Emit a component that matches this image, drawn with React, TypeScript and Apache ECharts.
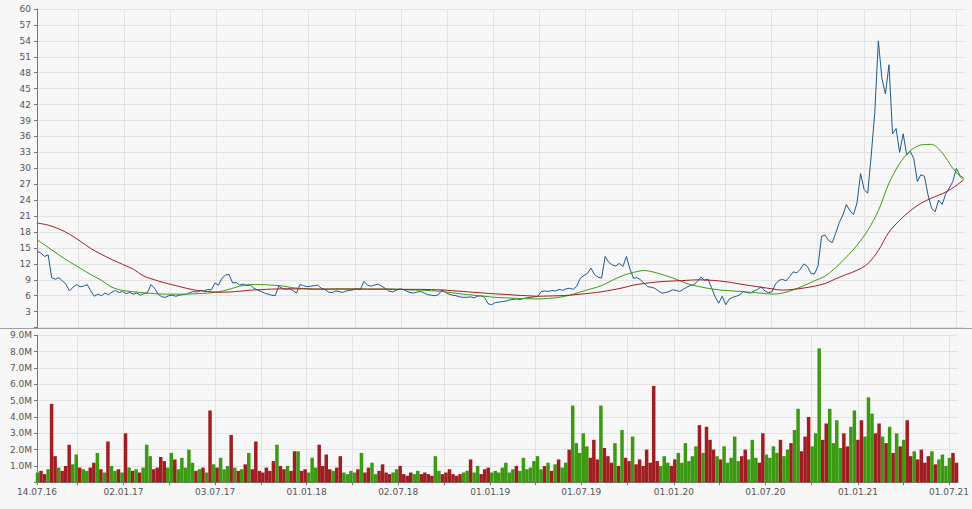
import React, { useEffect, useRef } from "react";
import * as echarts from "echarts";

// ---- data ----
const START = "2016-07-15"; // first weekly sample (Friday)
const AXIS_MIN = "2016-07-14";
const AXIS_MAX = "2021-07-19";

// weekly closing prices
const price = [
  14.3, 14.0, 13.4, 13.7, 9.4, 9.1, 9.4, 8.8, 8.2, 6.9,
  7.6, 8.1, 7.7, 7.8, 8.1, 6.9, 5.9, 6.3, 6.0, 6.5,
  6.2, 6.7, 7.0, 6.6, 6.8, 6.4, 6.6, 6.3, 6.5, 6.1,
  6.4, 6.6, 8.1, 7.4, 6.3, 5.8, 5.7, 6.0, 6.1, 5.9,
  6.1, 6.2, 6.3, 6.6, 6.8, 6.7, 7.0, 6.9, 7.2, 7.1,
  8.4, 8.0, 9.3, 9.9, 10.0, 8.4, 8.5, 8.0, 8.2, 7.9,
  8.0, 7.4, 7.1, 6.8, 6.5, 6.3, 6.1, 6.0, 7.8, 7.4,
  7.2, 7.3, 7.0, 6.5, 8.1, 7.9, 7.7, 7.8, 7.9, 8.0,
  7.4, 7.2, 6.7, 6.6, 6.9, 6.8, 6.6, 6.9, 7.0, 7.1,
  7.3, 7.2, 8.7, 8.0, 7.8, 8.0, 8.2, 7.8, 7.4, 6.9,
  6.7, 7.0, 7.3, 7.2, 6.9, 6.6, 6.5, 6.7, 6.8, 6.5,
  6.2, 6.1, 6.0, 6.2, 7.1, 6.6, 6.3, 6.1, 6.0, 5.8,
  5.7, 5.7, 5.8, 5.6, 5.9, 6.0, 5.7, 4.5, 4.3, 4.7,
  4.8, 4.9, 5.0, 5.2, 5.3, 5.4, 5.3, 5.5, 5.6, 5.7,
  5.8, 5.9, 6.8, 6.9, 6.8, 7.0, 6.9, 7.2, 7.0, 7.3,
  7.4, 7.2, 7.8, 9.3, 9.8, 10.2, 11.2, 10.0, 9.5, 9.3,
  13.4, 12.3, 11.8, 11.6, 12.1, 11.5, 13.4, 11.0, 9.3, 9.4,
  9.0, 8.3, 7.7, 7.6, 7.4, 6.9, 6.5, 6.6, 6.8, 7.1,
  7.0, 6.8, 7.2, 7.6, 7.9, 8.1, 8.7, 9.5, 8.9, 9.1,
  7.5, 5.8, 4.6, 5.9, 4.3, 5.4, 5.7, 5.9, 6.2, 6.8,
  6.6, 6.5, 6.9, 7.2, 7.7, 6.9, 6.6, 6.7, 8.2, 8.9,
  9.1, 8.8, 9.6, 10.5, 10.3, 11.0, 12.0, 11.5, 10.2, 10.1,
  11.6, 17.2, 17.4, 16.4, 16.0, 17.8, 19.8, 21.2, 23.2, 22.0,
  21.3, 23.5, 29.0, 26.0, 25.3, 32.5, 40.5, 54.0, 47.0, 44.0,
  49.5, 36.5, 37.5, 33.0, 36.5, 32.5, 33.2, 31.8, 27.5, 28.8,
  28.5, 25.0, 22.5, 21.8, 24.0, 23.2, 25.2, 26.3, 27.5, 30.0,
  28.6, 28.2,
];

// weekly volume (millions)
const volume = [
  0.6, 0.7, 0.5, 0.8, 4.8, 1.6, 0.9, 0.7, 1.0, 2.3,
  1.1, 1.7, 0.9, 0.8, 0.7, 0.9, 1.2, 1.8, 0.8, 0.6,
  2.5, 1.0, 0.7, 0.8, 0.6, 3.0, 0.9, 0.7, 0.8, 0.6,
  0.9, 2.3, 1.6, 0.8, 0.9, 1.55, 1.3, 0.9, 1.8, 1.4,
  0.8, 1.5, 0.9, 2.0, 1.2, 0.7, 0.8, 0.9, 0.6, 4.4,
  1.1, 0.9, 1.5, 0.8, 1.0, 2.9, 0.9, 0.7, 0.8, 1.1,
  1.8, 0.8, 2.5, 0.7, 0.6, 0.9, 0.7, 1.3, 2.3, 1.0,
  0.8, 1.0, 0.7, 1.9, 1.9, 0.7, 0.8, 0.6, 1.5, 0.9,
  2.3, 1.0, 1.7, 0.8, 0.7, 0.9, 1.6, 0.6, 0.5, 0.7,
  0.6, 0.8, 1.8, 0.6, 0.9, 1.2, 0.5, 0.7, 1.1, 0.6,
  0.5, 0.6, 0.8, 1.0, 0.5, 0.4, 0.6, 0.5, 0.7, 0.5,
  0.6, 0.5, 0.4, 1.6, 0.7, 0.5, 0.6, 0.8, 0.5, 0.4,
  0.5, 0.6, 0.7, 1.4, 0.6, 1.0, 0.5, 0.8, 0.9, 0.6,
  0.7, 0.6, 0.9, 1.2, 0.6, 0.8, 1.0, 0.7, 1.5, 0.8,
  0.9, 1.3, 1.6, 0.8, 1.0, 1.2, 0.7, 1.1, 1.4, 0.9,
  1.2, 2.0, 4.7, 2.4, 1.8, 3.0, 2.2, 1.5, 2.6, 1.4,
  4.7, 2.1, 1.6, 1.2, 2.4, 1.0, 3.2, 1.5, 1.3, 2.8,
  1.1, 1.4, 1.0, 2.0, 1.2, 5.9, 1.3, 1.0, 1.6, 1.2,
  1.0, 1.4, 1.8, 1.2, 2.4, 1.3, 1.6, 2.2, 3.5, 1.8,
  3.4, 2.6, 2.0, 1.6, 1.4, 2.2, 1.2, 1.5, 2.8, 1.3,
  1.6, 2.0, 1.4, 2.6, 1.5, 1.2, 3.0, 1.7, 1.5, 2.2,
  1.8, 2.6, 1.6, 2.0, 2.4, 3.2, 4.5, 1.9, 2.8, 4.0,
  2.2, 3.0, 8.2, 2.6, 3.6, 4.5, 2.4, 3.8, 2.1, 3.0,
  2.2, 3.4, 4.4, 2.6, 3.8, 2.8, 5.2, 4.2, 3.0, 3.6,
  2.8, 2.4, 3.4, 1.8, 3.0, 2.2, 2.6, 3.8, 1.6, 1.9,
  1.4, 2.0, 1.2, 1.6, 1.9, 1.1, 1.4, 1.7, 1.0, 1.5,
  1.8, 1.2,
];

// moving averages, one value every 3 weeks
const maShort = [
  16.5, 15.1, 13.7, 12.4, 11.2, 10.0, 8.9, 7.6, 7.0, 6.75,
  6.55, 6.4, 6.3, 6.3, 6.3, 6.4, 6.5, 6.75, 7.2, 7.8,
  8.1, 8.1, 8.0, 7.85, 7.5, 7.35, 7.25, 7.25, 7.3, 7.3,
  7.3, 7.25, 7.25, 7.25, 7.2, 7.1, 7.05, 6.95, 6.8, 6.55,
  6.3, 6.1, 5.9, 5.7, 5.6, 5.5, 5.45, 5.4, 5.5, 5.7,
  6.1, 6.7, 7.3, 7.9, 8.9, 9.8, 10.4, 10.75, 10.4, 9.8,
  9.1, 8.3, 7.8, 7.4, 7.1, 6.95, 6.8, 6.65, 6.5, 6.3,
  6.5, 7.1, 7.9, 8.8, 9.7, 11.3, 13.3, 15.5, 18.3, 22.0,
  27.2, 30.9, 33.3, 34.4, 34.5, 32.9, 30.0, 27.8,
];
const maLong = [
  19.7, 19.3, 18.6, 17.6, 16.3, 14.9, 13.8, 12.8, 11.9, 11.0,
  9.7, 9.0, 8.4, 7.9, 7.4, 7.0, 6.8, 6.65, 6.7, 6.85,
  7.05, 7.15, 7.25, 7.3, 7.3, 7.3, 7.25, 7.25, 7.25, 7.25,
  7.25, 7.25, 7.25, 7.25, 7.2, 7.2, 7.2, 7.15, 7.1, 6.95,
  6.8, 6.65, 6.5, 6.35, 6.25, 6.1, 6.0, 5.9, 5.95, 6.0,
  6.1, 6.3, 6.5, 6.75, 7.1, 7.5, 8.0, 8.3, 8.55, 8.7,
  8.8, 8.9, 9.0, 8.95, 8.8, 8.55, 8.2, 7.9, 7.6, 7.3,
  7.05, 7.2, 7.45, 7.8, 8.3, 9.2, 10.0, 10.8, 12.0, 14.5,
  18.0, 20.2, 22.0, 23.4, 24.4, 25.2, 26.3, 27.8,
];

// vertical grid (quarters) and axis labels (half-years)
const gridDates = [
  "2016-07-14", "2016-10-03", "2017-01-02", "2017-04-03", "2017-07-03",
  "2017-10-02", "2018-01-01", "2018-04-02", "2018-07-02", "2018-10-01",
  "2019-01-01", "2019-04-01", "2019-07-01", "2019-10-01", "2020-01-01",
  "2020-04-01", "2020-07-01", "2020-10-01", "2021-01-01", "2021-04-01",
  "2021-07-01",
];
const labelDates = [
  "2016-07-14", "2017-01-02", "2017-07-03", "2018-01-01", "2018-07-02",
  "2019-01-01", "2019-07-01", "2020-01-01", "2020-07-01", "2021-01-01",
  "2021-07-01",
];

const DAY = 86400000;
const ts = (s: string) => Date.parse(s + "T00:00:00Z");
const weekTs = (i: number) => ts(START) + i * 7 * DAY;

const fmtDate = (v: number) => {
  const d = new Date(v);
  const p = (n: number) => (n < 10 ? "0" + n : "" + n);
  return p(d.getUTCDate()) + "." + p(d.getUTCMonth() + 1) + "." + p(d.getUTCFullYear() % 100);
};

const GREEN = "#3c9a12";
const RED = "#a01e22";
const BLUE = "#1b5a92";
const GRID = "#e3e3e3";
const LABEL = "#555";
const FONT = "DejaVu Sans";

export default function App() {
  const ref = useRef<HTMLDivElement>(null);
  useEffect(() => {
    document.body.style.margin = "0";
    const chart = echarts.init(ref.current!, null, { renderer: "svg" });

    const priceData = price.map((v, i) => [weekTs(i), v]);
    const shortData = maShort.map((v, i) => [weekTs(i * 3), v]);
    const longData = maLong.map((v, i) => [weekTs(i * 3), v]);
    const volData = volume.map((v, i) => ({
      value: [weekTs(i), v],
      itemStyle: { color: i > 0 && price[i] < price[i - 1] ? RED : GREEN },
    }));

    const xBase = {
      type: "value" as const,
      min: ts(AXIS_MIN),
      max: ts(AXIS_MAX),
      splitLine: { show: true, lineStyle: { color: GRID, width: 1 } },
    };

    chart.setOption({
      animation: false,
      backgroundColor: "#f7f7f7",
      textStyle: { fontFamily: FONT },
      grid: [
        { left: 37, top: 9, width: 928, height: 318.6 },
        { left: 37, top: 335.3, width: 928, height: 147 },
      ],
      xAxis: [
        {
          ...xBase,
          gridIndex: 0,
          axisLine: { show: false },
          axisTick: { show: false, customValues: gridDates.map(ts) },
          axisLabel: { show: false, customValues: labelDates.map(ts) },
        },
        {
          ...xBase,
          gridIndex: 1,
          axisLine: { show: true, lineStyle: { color: "#777" } },
          axisTick: { show: true, length: 3, lineStyle: { color: "#777" }, customValues: gridDates.map(ts) },
          axisLabel: {
            show: true,
            customValues: labelDates.map(ts),
            formatter: (v: number) => fmtDate(v),
            color: LABEL,
            fontSize: 9,
            fontFamily: FONT,
            margin: 5,
            hideOverlap: false,
          },
        },
      ],
      yAxis: [
        {
          type: "value",
          gridIndex: 0,
          min: 0,
          max: 60,
          interval: 3,
          axisLine: { show: true, lineStyle: { color: "#777" } },
          axisTick: { show: true, length: 3, lineStyle: { color: "#777" } },
          axisLabel: {
            color: LABEL,
            fontSize: 9,
            fontFamily: FONT,
            margin: 6,
            formatter: (v: number) => (v === 0 ? "" : String(v)),
          },
          splitLine: { show: true, lineStyle: { color: GRID } },
        },
        {
          type: "value",
          gridIndex: 1,
          min: 0,
          max: 9,
          interval: 1,
          axisLine: { show: true, lineStyle: { color: "#777" } },
          axisTick: { show: true, length: 3, lineStyle: { color: "#777" } },
          axisLabel: {
            color: LABEL,
            fontSize: 9,
            fontFamily: FONT,
            margin: 5,
            formatter: (v: number) => (v === 0 ? "" : v.toFixed(1) + "M"),
          },
          splitLine: { show: true, lineStyle: { color: GRID } },
        },
      ],
      graphic: [
        {
          type: "line",
          shape: { x1: 0, y1: 328.5, x2: 972, y2: 328.5 },
          style: { stroke: "#a0a0a0", lineWidth: 1 },
          z: 10,
        },
      ],
      series: [
        {
          type: "line",
          name: "Kurs",
          xAxisIndex: 0,
          yAxisIndex: 0,
          data: priceData,
          symbol: "none",
          lineStyle: { color: BLUE, width: 1 },
          z: 3,
        },
        {
          type: "line",
          name: "GD 100",
          xAxisIndex: 0,
          yAxisIndex: 0,
          data: shortData,
          symbol: "none",
          smooth: 0.3,
          lineStyle: { color: GREEN, width: 1 },
          z: 4,
        },
        {
          type: "line",
          name: "GD 200",
          xAxisIndex: 0,
          yAxisIndex: 0,
          data: longData,
          symbol: "none",
          smooth: 0.3,
          lineStyle: { color: RED, width: 1 },
          z: 5,
        },
        {
          type: "bar",
          name: "Volumen",
          xAxisIndex: 1,
          yAxisIndex: 1,
          data: volData,
          barWidth: 3.5,
        },
      ],
    });
    return () => chart.dispose();
  }, []);
  return <div ref={ref} style={{ width: 972, height: 509 }} />;
}
